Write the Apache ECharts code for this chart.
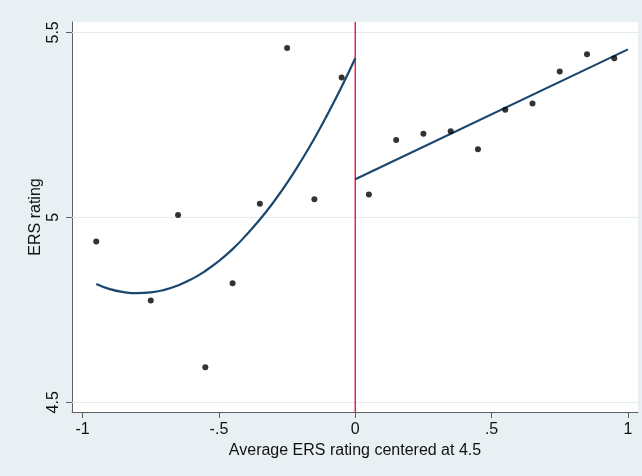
<!DOCTYPE html>
<html>
<head>
<meta charset="utf-8">
<script src="https://cdn.jsdelivr.net/npm/echarts@6/dist/echarts.min.js"></script>
<style>
html,body{margin:0;padding:0;background:#e9f0f3;}
#chart{width:642px;height:476px;}
</style>
</head>
<body>
<div id="chart"></div>
<script>
// Binned scatter points
const leftX = [-0.95, -0.75, -0.65, -0.55, -0.45, -0.35, -0.25, -0.15, -0.05];
const leftY = [4.935, 4.775, 5.006, 4.595, 4.822, 5.037, 5.458, 5.049, 5.378];
const rightX = [0.05, 0.15, 0.25, 0.35, 0.45, 0.55, 0.65, 0.75, 0.85, 0.95];
const rightY = [5.062, 5.209, 5.226, 5.233, 5.184, 5.291, 5.308, 5.394, 5.441, 5.430];
// Fitted curves
const fitLeftX = [-0.95, -0.9, -0.85, -0.8, -0.75, -0.7, -0.65, -0.6, -0.55, -0.5, -0.45, -0.4, -0.35, -0.3, -0.25, -0.2, -0.15, -0.1, -0.05, 0];
const fitLeftY = [4.820, 4.806, 4.798, 4.795, 4.797, 4.804, 4.816, 4.833, 4.855, 4.882, 4.914, 4.952, 4.994, 5.041, 5.093, 5.151, 5.213, 5.281, 5.353, 5.430];
const fitRightX = [0, 1.0];
const fitRightY = [5.103, 5.454];
// Axis ranges and ticks
const xRange = [-1.039, 1.037];
const yRange = [4.4738, 5.528];
const xTicks = [-1, -0.5, 0, 0.5, 1];
const xTickLabels = ['-1', '-.5', '0', '.5', '1'];
const yTicks = [4.5, 5, 5.5];
const yTickLabels = ['4.5', '5', '5.5'];
const cutoff = 0;

const zip = (xs, ys) => xs.map((x, i) => [x, ys[i]]);
const font = '"Liberation Sans", Arial, sans-serif';
const axisColor = '#5f5f5f';

const chart = echarts.init(document.getElementById('chart'));
chart.setOption({
  backgroundColor: '#e9f0f3',
  animation: false,
  grid: {left: 72, right: 4, top: 22, bottom: 64, show: true, backgroundColor: '#ffffff', borderWidth: 0},
  xAxis: {
    type: 'value', min: xRange[0], max: xRange[1],
    name: 'Average ERS rating centered at 4.5', nameLocation: 'middle', nameGap: 31,
    nameMoveOverlap: false,
    nameTextStyle: {fontFamily: font, fontSize: 16, color: '#111'},
    axisLine: {show: true, onZero: false, lineStyle: {color: axisColor, width: 1}},
    axisTick: {show: true, length: 6, customValues: xTicks, lineStyle: {color: axisColor}},
    axisLabel: {customValues: xTicks, margin: 10, fontFamily: font, fontSize: 16, color: '#111',
      formatter: v => { const i = xTicks.findIndex(t => Math.abs(t - v) < 1e-9); return i >= 0 ? xTickLabels[i] : ''; }},
    splitLine: {show: false}
  },
  yAxis: {
    type: 'value', min: yRange[0], max: yRange[1],
    name: 'ERS rating', nameLocation: 'middle', nameGap: 28, nameRotate: 90,
    nameMoveOverlap: false,
    nameTextStyle: {fontFamily: font, fontSize: 16, color: '#111'},
    axisLine: {show: true, onZero: false, lineStyle: {color: axisColor, width: 1}},
    axisTick: {show: true, length: 6, customValues: yTicks, lineStyle: {color: axisColor}},
    axisLabel: {customValues: yTicks, rotate: 90, margin: 10, fontFamily: font, fontSize: 16, color: '#111',
      formatter: v => { const i = yTicks.findIndex(t => Math.abs(t - v) < 1e-9); return i >= 0 ? yTickLabels[i] : ''; }},
    splitLine: {show: false}
  },
  series: [
    {
      type: 'line', data: [], silent: true, z: 1,
      markLine: {silent: true, symbol: 'none', z: 1, label: {show: false},
        lineStyle: {color: '#e3ecef', width: 1, type: 'solid'},
        data: yTicks.map(v => ({yAxis: v}))}
    },
    {
      type: 'line', data: [[cutoff, yRange[0]], [cutoff, yRange[1]]], silent: true, z: 3,
      showSymbol: false, lineStyle: {color: '#ee1144', width: 1.4}
    },
    {type: 'line', data: zip(fitLeftX, fitLeftY), smooth: true, showSymbol: false, z: 4,
      lineStyle: {color: '#1a476f', width: 2.2}},
    {type: 'line', data: zip(fitRightX, fitRightY), showSymbol: false, z: 4,
      lineStyle: {color: '#1a476f', width: 2.2}},
    {type: 'scatter', data: zip(leftX, leftY), symbolSize: 6, itemStyle: {color: '#000'}, z: 6},
    {type: 'scatter', data: zip(rightX, rightY), symbolSize: 6, itemStyle: {color: '#000'}, z: 6}
  ]
});
</script>
</body>
</html>
